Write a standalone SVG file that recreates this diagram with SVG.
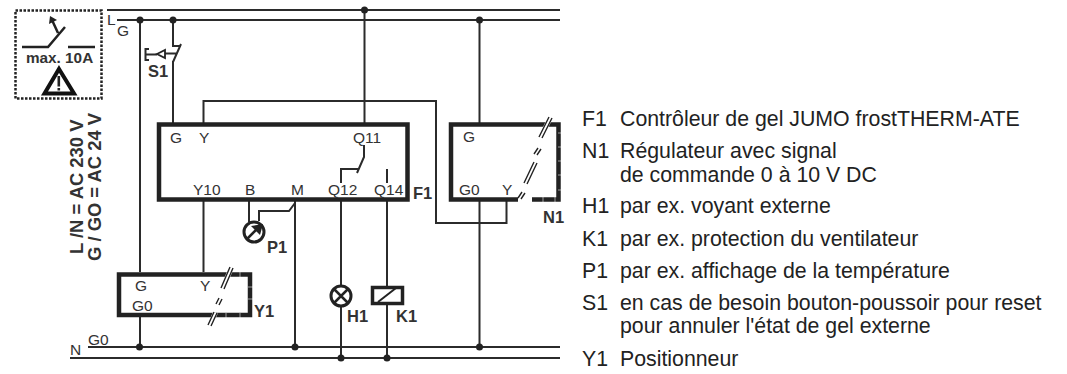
<svg xmlns="http://www.w3.org/2000/svg" width="1067" height="374" viewBox="0 0 1067 374">
<style>
text{font-family:"Liberation Sans",Arial,sans-serif;fill:#333}
.l{font-size:15.500px}
.b{font-size:16.500px;font-weight:bold}
.v{font-size:18.400px;font-weight:bold}
.t{font-size:21.300px;fill:#222}
.w{fill:none;stroke:#2b2b2b;stroke-width:2}
.bx{fill:none;stroke:#222;stroke-width:4.500}
.d{fill:#222}
.s{fill:none;stroke:#222;stroke-width:1.400}
.h{fill:none;stroke:#fff;stroke-width:5}
.k{fill:none;stroke:#fff;stroke-width:.8;stroke-opacity:.7}
</style>
<rect width="1067" height="374" fill="#fff"/>
<g id="connectors">
<path class="w" d="M107 10H560M117 20H560M88 347H560M70 358H560"/>
<path class="w" d="M140 20V272M140 317V347M173 20V46H181M173 61V123M203.500 123V101H436V223H506.500V201M364.500 10V123M479.500 20V123M479.500 201V347M203.500 201V272M249 201V222M259 221V211H289L295 203M295 201V347M341 201V286M341 306V358M387 201V287M387 304V358"/>
<g class="d"><circle cx="140" cy="20" r="3.500"/><circle cx="173" cy="20" r="3.500"/><circle cx="364.500" cy="10" r="3.500"/><circle cx="479.500" cy="20" r="3.500"/><circle cx="139.500" cy="347" r="3.500"/><circle cx="295" cy="347" r="3.500"/><circle cx="479.500" cy="347" r="3.500"/><circle cx="341" cy="358" r="3.500"/><circle cx="387" cy="358" r="3.500"/></g>
</g>
<g id="warning">
<rect x="15.500" y="10.500" width="86" height="88" fill="none" stroke="#222" stroke-width="2.500" stroke-dasharray="2.500 1.500"/>
<path d="M22 47H48L65 27M58 33L52 20M68 47H95" fill="none" stroke="#222" stroke-width="2.500"/>
<path d="M49 24L50 16L57 20Z" class="d"/>
<text x="26" y="63" style="font-size:15.300px;font-weight:bold">max. 10A</text>
<path d="M59 69L74 93.500H44.500Z" fill="none" stroke="#111" stroke-width="4"/>
<rect x="57.500" y="76" width="2.600" height="10.500" class="d"/><rect x="57.500" y="88" width="2.600" height="2.500" class="d"/>
</g>
<g id="voltage">
<text class="v" transform="translate(83 254) rotate(-90)">L /N = AC 230 V</text>
<text class="v" transform="translate(101 261) rotate(-90)">G / GO = AC 24 V</text>
</g>
<text class="l" x="107" y="25">L</text><text class="l" x="117" y="36">G</text>
<text class="l" x="70" y="355">N</text><text class="l" x="88" y="345">G0</text>
<g id="S1">
<path class="w" d="M181 44L173 62M149 49H145.500V60H149M145.500 54.500H157M164 53.500H176"/>
<path d="M157 54L165 50V58Z" fill="#fff" stroke="#222" stroke-width="1.800"/>
<text class="b" x="148" y="77">S1</text>
</g>
<g id="F1">
<rect class="bx" x="159" y="124.500" width="248.500" height="75"/>
<path class="w" d="M364 145V157L357 173M341 183V169H358M387 169V183"/>
<text class="l" x="170" y="143">G</text><text class="l" x="199" y="143">Y</text><text class="l" x="353" y="143">Q11</text>
<text class="l" x="193" y="195">Y10</text><text class="l" x="245" y="195">B</text><text class="l" x="291" y="195">M</text><text class="l" x="328" y="195">Q12</text><text class="l" x="374" y="195">Q14</text>
<text class="b" x="413" y="199">F1</text>
</g>
<g id="N1">
<path class="bx" d="M518 199.500H451V124.500H558.500V199.500H532"/>
<path class="h" d="M540.500 137.500L550.500 117.500"/>
<path class="k" d="M558 133h4M558 147h4M558 161h4M558 175h4M558 190h4M543 197v5M555 197v5"/>
<path class="s" d="M539 137L549 117M542 138L552 118M534 154L538 148M537 155L541 149M524 183L534 162M527 184L537 163M518 198L522 192M521 199L525 193"/>
<text class="l" x="463" y="142">G</text><text class="l" x="459" y="195">G0</text><text class="l" x="502" y="195">Y</text>
<text class="b" x="543" y="223">N1</text>
</g>
<g id="Y1">
<rect class="bx" x="119" y="274.500" width="131" height="40.500"/>
<path class="h" d="M222.500 288.500L231.500 267.500M209.500 325.500L215.500 312.500"/>
<path class="k" d="M240 272v5M248 287h5M248 299h5M226 313v5M240 313v5"/>
<path class="s" d="M221 288L230 267M224 289L233 268M216 304L219 298M219 305L222 299M208 325L214 312M211 326L217 313"/>
<text class="l" x="135" y="291">G</text><text class="l" x="132" y="311">G0</text><text class="l" x="200" y="291">Y</text>
<text class="b" x="254" y="317">Y1</text>
</g>
<g id="P1">
<circle cx="254" cy="232" r="10" fill="#fff" stroke="#222" stroke-width="3"/>
<path d="M247 239L256 230" stroke="#222" stroke-width="2.500"/>
<path d="M263 224L251 226L260 235Z" class="d"/>
<text class="b" x="267" y="253">P1</text>
</g>
<g id="H1">
<circle cx="341" cy="296" r="10" fill="#fff" stroke="#222" stroke-width="3"/>
<path d="M333.500 288.500L348.500 303.500M348.500 288.500L333.500 303.500" stroke="#222" stroke-width="2.500"/>
<text class="b" x="347" y="322">H1</text>
</g>
<g id="K1">
<rect x="372.500" y="287.500" width="30" height="16" fill="#fff" stroke="#222" stroke-width="3.500"/>
<path d="M378 302L396 288" stroke="#222" stroke-width="2"/>
<text class="b" x="396" y="322">K1</text>
</g>
<g id="legend">
<text class="t" x="582" y="126">F1</text><text class="t" x="620" y="126">Contrôleur de gel JUMO frostTHERM-ATE</text>
<text class="t" x="582" y="158">N1</text><text class="t" x="620" y="158">Régulateur avec signal</text>
<text class="t" x="620" y="182">de commande 0 à 10 V DC</text>
<text class="t" x="582" y="213">H1</text><text class="t" x="620" y="213">par ex. voyant externe</text>
<text class="t" x="582" y="246">K1</text><text class="t" x="620" y="246">par ex. protection du ventilateur</text>
<text class="t" x="582" y="278">P1</text><text class="t" x="620" y="278">par ex. affichage de la température</text>
<text class="t" x="582" y="310">S1</text><text class="t" x="620" y="310">en cas de besoin bouton-poussoir pour reset</text>
<text class="t" x="620" y="333">pour annuler l'état de gel externe</text>
<text class="t" x="582" y="366">Y1</text><text class="t" x="620" y="366">Positionneur</text>
</g>
</svg>
